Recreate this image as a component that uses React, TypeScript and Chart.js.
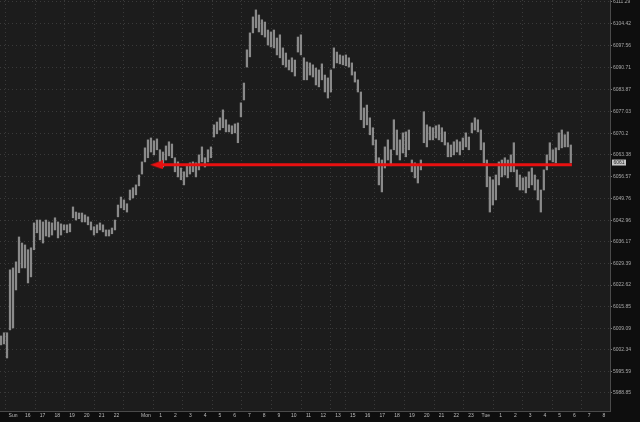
import React, { useEffect, useRef } from "react";
import { Chart, registerables } from "chart.js";

Chart.register(...registerables);

// x axis: hours since the "Sun" label (market hours, with the closed hour skipped)
const X_TICK_HOURS = [
  0, 1, 2, 3, 4, 5, 6, 7, 8, 9, 10, 11, 12, 13, 14, 15, 16, 17, 18, 19, 20,
  21, 22, 23, 24, 25, 26, 27, 28, 29, 30, 31, 32, 33, 34, 35, 36, 37, 38, 39, 40,
];
const X_TICK_LABELS = [
  "Sun", "16", "17", "18", "19", "20", "21", "22", "", "Mon", "1", "2", "3", "4", "5",
  "6", "7", "8", "9", "10", "11", "12", "13", "15", "16", "17", "18", "19", "20",
  "21", "22", "23", "Tue", "1", "2", "3", "4", "5", "6", "7", "8",
];
const X_GRID_HOURS = [0, 2, 4, 6, 8, 10, 12, 14, 16, 18, 20, 22, 23, 25, 27, 29, 31, 33, 35, 37, 39];

const Y_TICKS = [
  6111.29, 6104.42, 6097.56, 6090.71, 6083.87, 6077.03, 6070.2, 6063.38, 6056.57,
  6049.76, 6042.96, 6036.17, 6029.39, 6022.62, 6015.85, 6009.09, 6002.34, 5995.59,
  5988.85,
];

// bar times: first bar hour and spacing between bars (hours)
const BAR_START_HOUR = -0.812;
const BAR_STEP_HOURS = 0.203;

const HIGHS = [
  6006.7, 6007.7, 6007.7, 6027.4, 6028.0, 6029.9, 6037.7, 6035.8, 6035.2, 6033.7,
  6034.3, 6042.1, 6043.0, 6043.0, 6042.4, 6043.0, 6042.4, 6042.1, 6043.7, 6042.4,
  6041.8, 6041.5, 6041.5, 6041.8, 6047.1, 6045.5, 6045.2, 6045.2, 6044.6, 6044.0,
  6042.4, 6040.9, 6041.5, 6042.1, 6041.5, 6039.9, 6039.9, 6040.5, 6043.0, 6047.7,
  6050.2, 6049.3, 6048.1, 6052.4, 6053.1, 6054.0, 6057.1, 6061.2, 6065.6, 6068.1,
  6068.7, 6067.8, 6068.4, 6065.0, 6064.3, 6066.2, 6067.5, 6066.8, 6062.5, 6061.2,
  6059.3, 6058.1, 6060.3, 6060.9, 6061.2, 6060.9, 6063.4, 6065.9, 6062.5, 6065.0,
  6065.9, 6072.8, 6073.7, 6075.0, 6077.5, 6074.4, 6072.8, 6072.5, 6073.1, 6073.4,
  6079.7, 6085.9, 6096.3, 6101.6, 6106.6, 6108.8, 6107.2, 6105.7, 6105.0, 6102.5,
  6101.9, 6102.5, 6100.0, 6101.0, 6096.9, 6095.3, 6093.1, 6093.8, 6093.1, 6100.3,
  6101.0, 6093.8, 6092.5, 6092.2, 6091.6, 6090.6, 6090.0, 6091.9, 6088.4, 6087.5,
  6090.0, 6096.9, 6095.6, 6094.7, 6094.4, 6094.7, 6093.8, 6092.2, 6089.4, 6086.9,
  6083.1, 6078.1, 6079.0, 6075.0, 6071.9, 6068.1, 6062.5, 6061.8, 6065.9, 6068.1,
  6065.0, 6074.4, 6071.2, 6068.1, 6070.3, 6070.6, 6071.2, 6061.8, 6060.9, 6060.3,
  6061.8, 6076.9, 6072.8, 6072.2, 6071.9, 6072.5, 6072.8, 6071.9, 6070.6, 6067.2,
  6066.5, 6067.5, 6068.1, 6067.5, 6068.7, 6070.3, 6069.0, 6073.4, 6075.0, 6074.4,
  6071.2, 6067.2, 6061.8, 6056.5, 6055.6, 6057.1, 6061.2, 6061.8, 6062.5, 6061.8,
  6063.4, 6067.2, 6058.7, 6057.1, 6056.2, 6056.5, 6058.1, 6059.3, 6057.1, 6055.6,
  6052.4, 6058.7, 6063.4, 6067.2, 6065.0, 6065.6, 6070.3, 6071.2, 6069.7, 6070.6,
  6066.5,
];
const LOWS = [
  6003.9, 6004.2, 5999.8, 6008.6, 6009.2, 6021.1, 6026.5, 6028.0, 6028.0, 6023.3,
  6025.2, 6033.7, 6039.0, 6036.8, 6035.8, 6038.0, 6037.7, 6038.3, 6039.9, 6037.4,
  6038.3, 6039.9, 6039.0, 6039.3, 6043.7, 6043.0, 6043.4, 6042.4, 6042.4, 6041.5,
  6039.9, 6038.3, 6039.0, 6039.9, 6039.3, 6038.0, 6038.0, 6038.7, 6039.9, 6044.0,
  6046.8, 6046.2, 6045.5, 6049.3, 6049.9, 6050.9, 6053.7, 6057.4, 6061.2, 6062.5,
  6064.3, 6063.4, 6065.0, 6061.2, 6059.6, 6061.8, 6063.1, 6062.5, 6058.1, 6056.5,
  6055.6, 6054.0, 6056.5, 6057.4, 6058.1, 6056.5, 6058.7, 6061.2, 6059.6, 6061.2,
  6062.5, 6069.0, 6070.0, 6071.2, 6071.9, 6070.6, 6070.6, 6070.0, 6070.3, 6067.2,
  6075.3, 6080.6, 6090.9, 6094.1, 6101.6, 6103.2, 6101.9, 6101.0, 6100.3, 6097.8,
  6097.2, 6096.9, 6094.7, 6093.8, 6091.6, 6090.9, 6090.0, 6089.4, 6088.1, 6095.6,
  6094.7, 6086.9, 6086.9, 6088.4, 6087.8, 6085.3, 6084.7, 6086.9, 6083.1, 6081.2,
  6083.1, 6090.6, 6092.2, 6091.9, 6091.6, 6091.3, 6090.9, 6088.4, 6086.2, 6083.1,
  6074.4, 6071.9, 6072.8, 6069.7, 6066.5, 6060.9, 6054.0, 6051.8, 6059.3, 6061.8,
  6060.0, 6065.0, 6063.4, 6061.8, 6064.0, 6062.8, 6065.0, 6058.1, 6056.2, 6054.6,
  6058.7, 6067.2, 6065.9, 6068.1, 6068.1, 6068.7, 6068.1, 6067.5, 6066.5, 6062.8,
  6062.8, 6063.4, 6064.3, 6063.4, 6065.0, 6065.9, 6065.0, 6070.3, 6071.2, 6070.6,
  6065.0, 6060.9, 6053.4, 6045.5, 6047.7, 6049.3, 6054.0, 6056.5, 6057.1, 6056.2,
  6058.1, 6058.1, 6053.4, 6052.4, 6052.4, 6051.5, 6053.1, 6054.0, 6052.4, 6049.3,
  6045.5, 6052.4, 6058.7, 6061.8, 6061.2, 6060.9, 6065.0, 6065.6, 6065.9, 6065.9,
  6060.9,
];

// red horizontal level with arrow
const LEVEL_PRICE = 6060.3;
const LEVEL_START_HOUR = 9.71;
const LEVEL_END_HOUR = 37.83;
const LAST_PRICE = 6061;

const X_MIN = -0.88;
const X_MAX = 40.41;
const Y_MIN = 5983.2;
const Y_MAX = 6111.9;

const FONT = "'Liberation Sans', Arial, sans-serif";

export default function App() {
  const ref = useRef<HTMLCanvasElement | null>(null);

  useEffect(() => {
    const canvas = ref.current;
    if (!canvas) return;

    const arrow = document.createElement("canvas");
    arrow.width = 13;
    arrow.height = 9;
    const actx = arrow.getContext("2d")!;
    actx.fillStyle = "#e81010";
    actx.beginPath();
    actx.moveTo(0, 4.5);
    actx.lineTo(13, 0);
    actx.lineTo(13, 9);
    actx.closePath();
    actx.fill();

    const bgPlugin = {
      id: "bg",
      beforeDraw(chart: any) {
        const { ctx, chartArea } = chart;
        ctx.save();
        ctx.fillStyle = "#0e0e0e";
        ctx.fillRect(0, 0, chart.width, chart.height);
        ctx.fillStyle = "#1c1c1c";
        ctx.fillRect(chartArea.left, chartArea.top, chartArea.right - chartArea.left, chartArea.bottom - chartArea.top);
        ctx.restore();
      },
    };

    const priceLabel = {
      id: "priceLabel",
      afterDraw(chart: any) {
        const { ctx, chartArea } = chart;
        const y = chart.scales.y.getPixelForValue(LAST_PRICE);
        ctx.save();
        ctx.fillStyle = "#c4c4c4";
        ctx.fillRect(chartArea.right + 2, y - 3, 14, 6);
        ctx.fillStyle = "#2a2a2a";
        ctx.font = `5px ${FONT}`;
        ctx.textBaseline = "middle";
        ctx.textAlign = "left";
        ctx.fillText(String(LAST_PRICE), chartArea.right + 3.5, y + 0.3);
        ctx.restore();
      },
    };

    const chart = new Chart(canvas, {
      type: "bar",
      data: {
        datasets: [
          {
            type: "line",
            data: [
              { x: LEVEL_START_HOUR, y: LEVEL_PRICE },
              { x: LEVEL_END_HOUR, y: LEVEL_PRICE },
            ],
            borderColor: "#e81010",
            borderWidth: 3,
            pointStyle: (ctx: any) => (ctx.dataIndex === 0 ? arrow : "circle"),
            pointRadius: (ctx: any) => (ctx.dataIndex === 0 ? 5 : 0),
            clip: false,
            order: 1,
          } as any,
          {
            type: "bar",
            data: HIGHS.map((hi, i) => ({
              x: BAR_START_HOUR + i * BAR_STEP_HOURS,
              y: [LOWS[i], hi],
            })),
            backgroundColor: "#8a8a8a",
            barThickness: 1.6,
            borderWidth: 0,
            borderSkipped: false,
            order: 2,
          } as any,
        ],
      },
      options: {
        animation: false,
        responsive: false,
        maintainAspectRatio: false,
        layout: { padding: 0, autoPadding: false },
        plugins: {
          legend: { display: false },
          tooltip: { enabled: false },
        },
        scales: {
          x: {
            type: "linear",
            min: X_MIN,
            max: X_MAX,
            offset: false,
            afterBuildTicks: (s: any) => {
              s.ticks = X_TICK_HOURS.map((v) => ({ value: v }));
            },
            afterFit: (s: any) => {
              s.height = 11;
              s.paddingLeft = 0;
              s.paddingRight = 0;
            },
            ticks: {
              autoSkip: false,
              maxRotation: 0,
              minRotation: 0,
              padding: 2,
              color: "#bdbdbd",
              font: { family: FONT, size: 5 },
              callback: (_v: any, i: number) => X_TICK_LABELS[i],
            },
            grid: {
              drawTicks: false,
              lineWidth: 1,
              color: (ctx: any) =>
                ctx.tick && X_GRID_HOURS.includes(ctx.tick.value) ? "#3a3a3a" : "rgba(0,0,0,0)",
            },
            border: { display: true, color: "#4a4a4a", dash: [1, 3] },
          },
          y: {
            type: "linear",
            position: "right",
            min: Y_MIN,
            max: Y_MAX,
            afterBuildTicks: (s: any) => {
              s.ticks = Y_TICKS.map((v) => ({ value: v }));
            },
            afterFit: (s: any) => {
              s.width = 30;
              s.paddingTop = 0;
              s.paddingBottom = 0;
            },
            ticks: {
              padding: 1,
              color: "#a8a8a8",
              font: { family: FONT, size: 5 },
              callback: (v: any) => String(v),
            },
            grid: {
              color: "#3a3a3a",
              lineWidth: 1,
              tickLength: 2,
              tickColor: "#777777",
              tickBorderDash: [],
            },
            border: { display: true, color: "#4a4a4a", dash: [1, 3] },
          },
        },
      },
      plugins: [bgPlugin, priceLabel],
    } as any);

    return () => chart.destroy();
  }, []);

  return (
    <div style={{ position: "fixed", left: 0, top: 0, width: 640, height: 422, background: "#0e0e0e" }}>
      <canvas ref={ref} width={640} height={422} style={{ display: "block", width: 640, height: 422 }} />
    </div>
  );
}
